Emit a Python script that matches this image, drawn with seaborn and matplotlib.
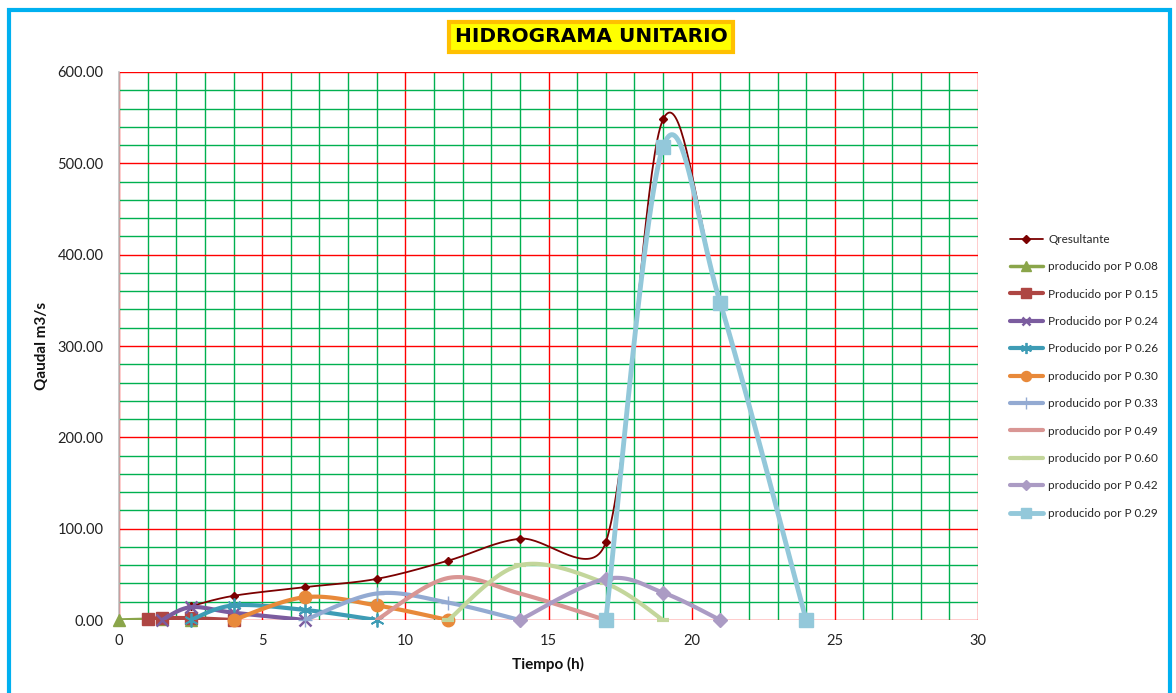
import numpy as np
import matplotlib.pyplot as plt
import seaborn as sns
from matplotlib.lines import Line2D
from matplotlib.patches import Rectangle
from matplotlib.ticker import MultipleLocator, FuncFormatter

sns.set_theme(style="white")
plt.rcParams['font.family'] = ['Lato', 'DejaVu Sans']

# --- Datos (tiempo en h, caudal en m3/s) ---
t_qres = [2.5, 4, 6.5, 9, 11.5, 14, 17, 19, 21, 24]
q_qres = [15, 26.5, 36, 45, 65, 89, 85, 548, 347, 0]

t_p008 = [0, 1.5, 2.5]
q_p008 = [0, 1, 0]
t_p015 = [1, 1.5, 2.5, 4]
q_p015 = [1, 2, 2, 0]
t_p024 = [1.5, 2.5, 4, 6.5]
q_p024 = [0, 14, 8, 0]
t_p026 = [2.5, 4, 6.5, 9]
q_p026 = [0, 16, 11, 0]
t_p030 = [4, 6.5, 9, 11.5]
q_p030 = [0, 25, 16, 0]
t_p033 = [6.5, 9, 11.5, 14]
q_p033 = [0, 29, 19, 0]
t_p049 = [9, 11.5, 14, 17]
q_p049 = [0, 46, 29, 0]
t_p060 = [11.5, 14, 17, 19]
q_p060 = [0, 60, 40, 0]
t_p042 = [14, 17, 19, 21]
q_p042 = [0, 45, 30, 0]
t_p029 = [17, 19, 21, 24]
q_p029 = [0, 518, 347, 0]

etiquetas = ['Qresultante', 'producido por P 0.08', 'Producido por P 0.15',
             'Producido por P 0.24', 'Producido por P 0.26', 'producido por P 0.30',
             'producido por P 0.33', 'producido por P 0.49', 'producido por P 0.60',
             'producido por P 0.42', 'producido por P 0.29']
tiempos = [t_qres, t_p008, t_p015, t_p024, t_p026, t_p030, t_p033,
           t_p049, t_p060, t_p042, t_p029]
caudales = [q_qres, q_p008, q_p015, q_p024, q_p026, q_p030, q_p033,
            q_p049, q_p060, q_p042, q_p029]

# estilo: color, marcador, tamaño, grosor de línea, grosor de marcador
estilos = [
    ('#7B0000', 'D', 4.5, 1.3, 1.0),
    ('#8AA54A', '^', 9, 2.5, 1.0),
    ('#AE4643', 's', 9, 3.0, 1.0),
    ('#7B5C9F', 'x', 8, 3.0, 1.8),
    ('#3E9CB5', (6, 2, 0), 10, 3.0, 1.3),
    ('#E8893A', 'o', 9, 3.0, 1.0),
    ('#93AAD2', '+', 10, 3.0, 1.0),
    ('#D99694', None, 0, 3.0, 1.0),
    ('#C3D69B', '_', 8, 3.0, 3.0),
    ('#AB9BC4', 'D', 7, 3.0, 1.0),
    ('#93C8DA', 's', 9.5, 3.5, 1.0),
]


def suavizar(t, q, sx, sy, n=40):
    # curva Bezier al estilo "línea suavizada" de Excel (en pixeles)
    p = np.column_stack([np.asarray(t, float) * sx, np.asarray(q, float) * sy])
    ext = np.vstack([p[0], p, p[-1]])
    tang = ext[2:] - ext[:-2]
    s = np.linspace(0, 1, n)[1:, None]
    curva = [p[:1]]
    for i in range(len(p) - 1):
        a, b = p[i], p[i + 1]
        d = np.hypot(*(b - a))

        def f(T):
            nt = np.hypot(*T)
            return 0 if nt == 0 else min(1 / 6, 0.5 * d / nt)

        c1 = a + f(tang[i]) * tang[i]
        c2 = b - f(tang[i + 1]) * tang[i + 1]
        curva.append((1 - s) ** 3 * a + 3 * (1 - s) ** 2 * s * c1
                     + 3 * (1 - s) * s ** 2 * c2 + s ** 3 * b)
    c = np.vstack(curva)
    return c[:, 0] / sx, c[:, 1] / sy


fig = plt.figure(figsize=(11.76, 6.93), dpi=100)
fig.subplots_adjust(left=119 / 1176, right=978 / 1176, top=1 - 72 / 693, bottom=1 - 620 / 693)
ax = fig.add_subplot(111)
ax.set_xlim(0, 30)
ax.set_ylim(0, 600)

sx = ax.bbox.width / 30
sy = ax.bbox.height / 600

handles = []
for k, (t, q, lab, est) in enumerate(zip(tiempos, caudales, etiquetas, estilos)):
    color, mk, ms, lw, mew = est
    xs, ys = suavizar(t, q, sx, sy)
    sns.lineplot(x=xs, y=ys, sort=False, estimator=None, color=color,
                 linewidth=lw, ax=ax, legend=False, zorder=3 + k)
    if mk is not None:
        ax.plot(t, q, ls='none', marker=mk, ms=ms, color=color, mec=color,
                mew=mew, zorder=3 + k, clip_on=False)
    handles.append(Line2D([], [], color=color, lw=lw, marker=mk, ms=ms * 0.8,
                          mec=color, mew=mew, label=lab))

# --- Ejes y cuadrícula ---
ax.xaxis.set_major_locator(MultipleLocator(5))
ax.xaxis.set_minor_locator(MultipleLocator(1))
ax.yaxis.set_major_locator(MultipleLocator(100))
ax.yaxis.set_minor_locator(MultipleLocator(20))
ax.yaxis.set_major_formatter(FuncFormatter(lambda y, _: f'{y:.2f}'))
ax.set_axisbelow(True)
ax.grid(which='major', color='#FF0000', linewidth=1.0)
ax.grid(which='minor', color='#00B050', linewidth=1.0)
ax.tick_params(which='both', length=0, labelsize=10.5, colors='#222222')
ax.tick_params(axis='y', pad=11)
ax.tick_params(axis='x', pad=10)
for lado in ['top', 'right', 'bottom']:
    ax.spines[lado].set_visible(False)
ax.spines['left'].set_color('#BFBFBF')
ax.spines['left'].set_linewidth(1.2)

ax.set_xlabel('Tiempo (h)', fontsize=11, fontweight='bold', color='#111111', va='top')
ax.set_ylabel('Qaudal m3/s', fontsize=11, fontweight='bold', color='#111111')
ax.xaxis.set_label_coords(0.5, -0.068)
ax.yaxis.set_label_coords(-0.082, 0.5)

fig.legend(handles=handles, loc='upper left', bbox_to_anchor=(1005 / 1176, 1 - 229 / 693),
           frameon=False, fontsize=8.5, handlelength=2.8, handletextpad=0.45,
           labelspacing=1.39, borderaxespad=0)

fig.text(591 / 1176, 1 - 37 / 693, 'HIDROGRAMA UNITARIO', ha='center', va='center',
         fontsize=14.5, fontweight='heavy', family=['DejaVu Sans'], color='black',
         bbox=dict(boxstyle='square,pad=0.28', fc='#FFFF00', ec='#FFC000', lw=3))

fig.patches.append(Rectangle((9 / 1176, -0.05), 1161 / 1176, 1.05 - 10 / 693,
                             transform=fig.transFigure, fill=False,
                             edgecolor='#00B0F0', linewidth=3))

plt.savefig('out.png', dpi=100)
